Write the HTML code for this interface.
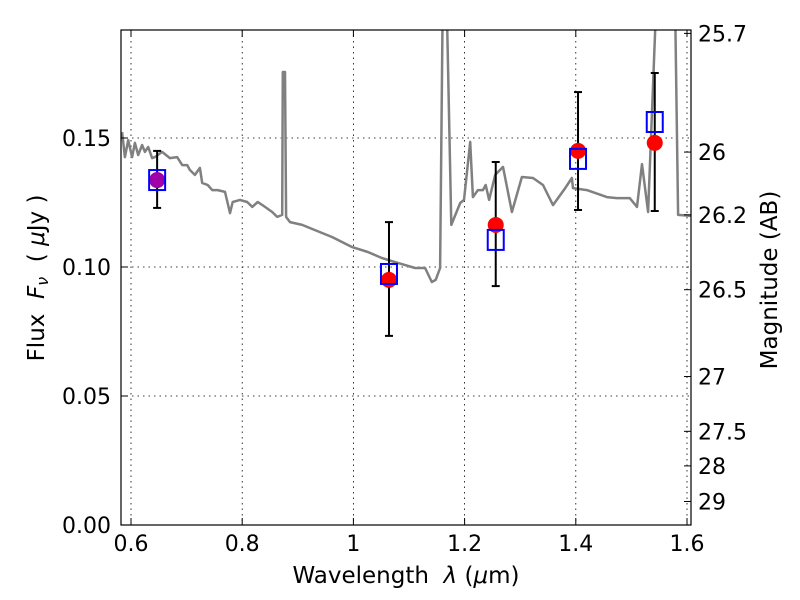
<!DOCTYPE html>
<html><head><meta charset="utf-8"><style>
body{margin:0;background:#fff;}
svg{display:block;font-family:"DejaVu Sans","Liberation Sans",sans-serif;}
</style></head><body>
<svg id="chart" width="800" height="600" viewBox="0 0 800 600" xmlns="http://www.w3.org/2000/svg">
<defs><clipPath id="clip"><rect x="121" y="30" width="570" height="495"/></clipPath></defs>
<rect x="0" y="0" width="800" height="600" fill="#fff"/>
<g id="grid"></g>
<g id="spec" clip-path="url(#clip)"></g>
<g id="pts"></g>
<rect x="121" y="30" width="570" height="495" fill="none" stroke="#000" stroke-width="1.2"/>
<g id="axes"></g>
<text x="406" y="583" font-size="23" text-anchor="middle" xml:space="preserve">Wavelength  <tspan font-style="italic">λ</tspan> (<tspan font-style="italic">μ</tspan>m)</text>
<text transform="translate(44,278) rotate(-90)" font-size="23" text-anchor="middle" xml:space="preserve">Flux  <tspan font-style="italic">F</tspan><tspan font-size="16" dy="4" font-style="italic">ν</tspan><tspan dy="-4">  ( </tspan><tspan font-style="italic">μ</tspan>Jy )</text>
<text transform="translate(777,280) rotate(-90)" font-size="23" text-anchor="middle">Magnitude (AB)</text>
</svg>
<script>
const specLam=[0.584,0.589,0.595,0.602,0.607,0.613,0.620,0.625,0.631,0.638,0.643,0.656,0.670,0.683,0.692,0.701,0.706,0.715,0.724,0.728,0.738,0.746,0.756,0.769,0.778,0.783,0.796,0.809,0.818,0.828,0.841,0.854,0.863,0.872,0.873,0.877,0.879,0.886,0.908,0.931,0.962,0.997,1.026,1.051,1.080,1.111,1.129,1.141,1.148,1.156,1.161,1.167,1.176,1.192,1.199,1.210,1.215,1.224,1.233,1.238,1.244,1.255,1.269,1.285,1.303,1.323,1.341,1.359,1.381,1.393,1.395,1.420,1.456,1.474,1.497,1.510,1.519,1.530,1.546,1.578,1.584,1.607];
const specFlux=[0.1523,0.1426,0.1492,0.1426,0.1481,0.1434,0.1473,0.1446,0.1465,0.1422,0.1426,0.1446,0.1422,0.1426,0.1395,0.1395,0.1376,0.1357,0.1384,0.1326,0.1318,0.1298,0.1298,0.1291,0.1209,0.1252,0.1260,0.1252,0.1233,0.1252,0.1233,0.1213,0.1194,0.1202,0.1756,0.1756,0.1194,0.1174,0.1163,0.1143,0.1116,0.1078,0.1058,0.1035,0.1016,0.0996,0.0996,0.0942,0.0950,0.0996,0.21,0.21,0.1163,0.1248,0.1260,0.1485,0.1271,0.1298,0.1298,0.1318,0.1260,0.1357,0.1388,0.1213,0.1349,0.1345,0.1318,0.1240,0.1306,0.1345,0.1306,0.1298,0.1271,0.1267,0.1267,0.1233,0.1399,0.1213,0.21,0.21,0.1202,0.1198];
const bandLam=[0.647,1.064,1.256,1.404,1.542];
const obsFlux=[0.1337,0.0950,0.1163,0.1450,0.1481];
const modelFlux=[0.1337,0.0973,0.1105,0.1419,0.1562];
const errHi=[0.1450,0.1174,0.1407,0.1678,0.1752];
const errLo=[0.1229,0.0733,0.0926,0.1221,0.1217];
const xTicks=[0.6,0.8,1.0,1.2,1.4,1.6];
const xTickLabels=["0.6","0.8","1","1.2","1.4","1.6"];
const yTicks=[0,0.05,0.10,0.15];
const yTickLabels=["0.00","0.05","0.10","0.15"];
const magTicks=[25.7,26,26.2,26.5,27,27.5,28,29];
const magTickLabels=["25.7","26","26.2","26.5","27","27.5","28","29"];

const NS="http://www.w3.org/2000/svg";
const X=l=>131+(l-0.6)*556;
const Y=f=>525-f*2580;
function mk(tag,attrs,parent){const e=document.createElementNS(NS,tag);for(const k in attrs)e.setAttribute(k,attrs[k]);parent.appendChild(e);return e;}
const grid=document.getElementById('grid'),axes=document.getElementById('axes'),spec=document.getElementById('spec'),pts=document.getElementById('pts');

xTicks.forEach((t,i)=>{
  const x=X(t);
  let g=mk('line',{x1:x,x2:x,y1:30,y2:525,stroke:'#000','stroke-width':0.8,'stroke-dasharray':'1.5,4'},grid);
  
  
  mk('line',{x1:x,x2:x,y1:525,y2:518,stroke:'#000'},axes);
  mk('line',{x1:x,x2:x,y1:30,y2:37,stroke:'#000'},axes);
  let tx=mk('text',{x:x,y:551,'font-size':22,'text-anchor':'middle'},axes);
  tx.textContent=xTickLabels[i];
  
  
});
yTicks.forEach((t,i)=>{
  const y=Y(t);
  if(t>0){let g=mk('line',{x1:121,x2:691,y1:y,y2:y,stroke:'#000','stroke-width':0.8,'stroke-dasharray':'1.5,4'},grid);
  
  }
  mk('line',{x1:121,x2:128,y1:y,y2:y,stroke:'#000'},axes);
  let tx=mk('text',{x:111,y:y+8,'font-size':22,'text-anchor':'end'},axes);
  tx.textContent=yTickLabels[i];
  
  
});
magTicks.forEach((m,i)=>{
  const y=Y(Math.pow(10,(23.9-m)/2.5));
  mk('line',{x1:684,x2:691,y1:y,y2:y,stroke:'#000'},axes);
  let tx=mk('text',{x:698,y:y+8,'font-size':22},axes);
  tx.textContent=magTickLabels[i];
  
  
});

let d='';
specLam.forEach((l,i)=>{d+=(i?'L':'M')+X(l).toFixed(1)+','+Y(specFlux[i]).toFixed(1);});
let p=mk('path',{d:d,fill:'none',stroke:'#808080','stroke-width':2.5,'stroke-linejoin':'round'},spec);



bandLam.forEach((l,i)=>{
  const x=X(l);
  let e=mk('line',{x1:x,x2:x,y1:Y(errHi[i]),y2:Y(errLo[i]),stroke:'#000','stroke-width':2},pts);
  
  
  mk('line',{x1:x-4,x2:x+4,y1:Y(errHi[i]),y2:Y(errHi[i]),stroke:'#000','stroke-width':2},pts);
  mk('line',{x1:x-4,x2:x+4,y1:Y(errLo[i]),y2:Y(errLo[i]),stroke:'#000','stroke-width':2},pts);
  let c=mk('circle',{cx:x,cy:Y(obsFlux[i]),r:8,fill:i===0?'#a000a8':'#ff0000'},pts);
  
  
  let s=mk('rect',{x:x-8,y:Y(modelFlux[i])-10,width:16,height:20,fill:'none',stroke:'#0000ff','stroke-width':2},pts);
  
  
});
</script>
</body></html>
